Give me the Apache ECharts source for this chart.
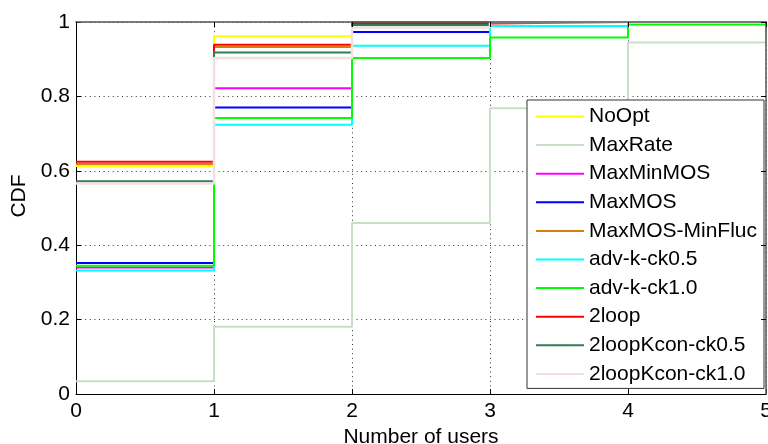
<!DOCTYPE html>
<html>
<head>
<meta charset="utf-8">
<script src="https://cdn.jsdelivr.net/npm/echarts@6/dist/echarts.min.js"></script>
<style>
  html, body { margin: 0; padding: 0; background: #fff; }
  #chart { width: 768px; height: 444px; }
</style>
</head>
<body>
<div id="chart"></div>
<script>
// Number of users (step positions)
const users = [0, 1, 2, 3, 4, 5];

// CDF values per scheme, one value per user count
const noOpt          = [0.613, 0.962, 1.000, 1.000, 1.000, 1.000];
const maxRate        = [0.034, 0.181, 0.460, 0.768, 0.945, 1.000];
const maxMinMOS      = [0.340, 0.822, 1.000, 1.000, 1.000, 1.000];
const maxMOS         = [0.352, 0.770, 0.973, 1.000, 1.000, 1.000];
const maxMOSMinFluc  = [0.618, 0.933, 1.000, 1.000, 1.000, 1.000];
const advKck05       = [0.332, 0.724, 0.936, 0.989, 1.000, 1.000];
const advKck10       = [0.345, 0.742, 0.903, 0.958, 0.993, 1.000];
const twoLoop        = [0.624, 0.939, 0.996, 1.000, 1.000, 1.000];
const twoLoopKcon05  = [0.572, 0.918, 0.992, 1.000, 1.000, 1.000];
const twoLoopKcon10  = [0.566, 0.903, 0.985, 1.000, 1.000, 1.000];

const seriesNames = ['NoOpt', 'MaxRate', 'MaxMinMOS', 'MaxMOS', 'MaxMOS-MinFluc',
  'adv-k-ck0.5', 'adv-k-ck1.0', '2loop', '2loopKcon-ck0.5', '2loopKcon-ck1.0'];
const seriesValues = [noOpt, maxRate, maxMinMOS, maxMOS, maxMOSMinFluc,
  advKck05, advKck10, twoLoop, twoLoopKcon05, twoLoopKcon10];
const seriesColors = ['#ffff00', '#c6dfc6', '#ff00ff', '#0000ff', '#dd7a12',
  '#00ffff', '#00ff00', '#ff0000', '#2e7d55', '#f0e0e0'];

const xTicks = [0, 1, 2, 3, 4, 5];
const yTicks = [0, 0.2, 0.4, 0.6, 0.8, 1];

const font = 'Liberation Sans, Arial, Helvetica, sans-serif';

const chart = echarts.init(document.getElementById('chart'), null, { renderer: 'canvas' });

const gridDots = { color: '#333', width: 1, type: [1, 3.6] };

const option = {
  animation: false,
  backgroundColor: '#fff',
  textStyle: { fontFamily: font },
  grid: { left: 76, right: 2, top: 22, bottom: 50, containLabel: false, outerBoundsMode: 'none' },
  legend: {
    orient: 'vertical',
    left: 527,
    top: 100,
    padding: [6, 7, 4, 8],
    itemWidth: 48,
    itemHeight: 2,
    itemGap: 7.6,
    backgroundColor: '#fff',
    borderColor: '#333',
    borderWidth: 1,
    borderRadius: 0,
    textStyle: { fontFamily: font, fontSize: 21, color: '#000', lineHeight: 20 },
    data: seriesNames
  },
  xAxis: [{
    type: 'value', min: 0, max: 5, interval: 1,
    name: 'Number of users', nameLocation: 'middle', nameGap: 29,
    nameTextStyle: { fontFamily: font, fontSize: 21, color: '#000' },
    axisLine: { show: true, onZero: false, lineStyle: { color: '#000', width: 1 } },
    axisTick: { show: true, inside: true, length: 5, lineStyle: { color: '#000' } },
    axisLabel: { fontFamily: font, fontSize: 21, color: '#000', margin: 7,
      formatter: v => xTicks.includes(v) ? String(v) : '' },
    splitLine: { show: true, lineStyle: gridDots }
  }, {
    type: 'value', min: 0, max: 5, interval: 1, position: 'top', z: 10,
    axisLine: { show: true, onZero: false, lineStyle: { color: '#555', width: 1.5 } },
    axisTick: { show: true, inside: true, length: 5, lineStyle: { color: '#000' } },
    axisLabel: { show: false },
    splitLine: { show: false }
  }],
  yAxis: [{
    type: 'value', min: 0, max: 1, interval: 0.2,
    name: 'CDF', nameLocation: 'middle', nameGap: 45,
    nameTextStyle: { fontFamily: font, fontSize: 21, color: '#000', padding: [0, 0, 0, 24] },
    axisLine: { show: true, onZero: false, lineStyle: { color: '#000', width: 1 } },
    axisTick: { show: true, inside: true, length: 5, lineStyle: { color: '#000' } },
    axisLabel: { fontFamily: font, fontSize: 21, color: '#000', margin: 6,
      formatter: v => {
        const t = yTicks.find(k => Math.abs(k - v) < 1e-9);
        return t === undefined ? '' : String(t);
      } },
    splitLine: { show: true, lineStyle: gridDots }
  }, {
    type: 'value', min: 0, max: 1, interval: 0.2, position: 'right', z: 10,
    axisLine: { show: true, onZero: false, lineStyle: { color: '#555', width: 1.5 } },
    axisTick: { show: true, inside: true, length: 5, lineStyle: { color: '#000' } },
    axisLabel: { show: false },
    splitLine: { show: false }
  }],
  series: seriesNames.map((name, i) => ({
    name: name,
    type: 'line',
    step: 'end',
    xAxisIndex: 0,
    yAxisIndex: 0,
    symbol: 'none',
    showSymbol: false,
    clip: true,
    color: seriesColors[i],
    lineStyle: { color: seriesColors[i], width: i === 9 ? 2.5 : 2 },
    emphasis: { disabled: true },
    data: users.map((u, j) => [u, seriesValues[i][j]]),
    z: 2 + i * 0.01
  }))
};

chart.setOption(option);
</script>
</body>
</html>
